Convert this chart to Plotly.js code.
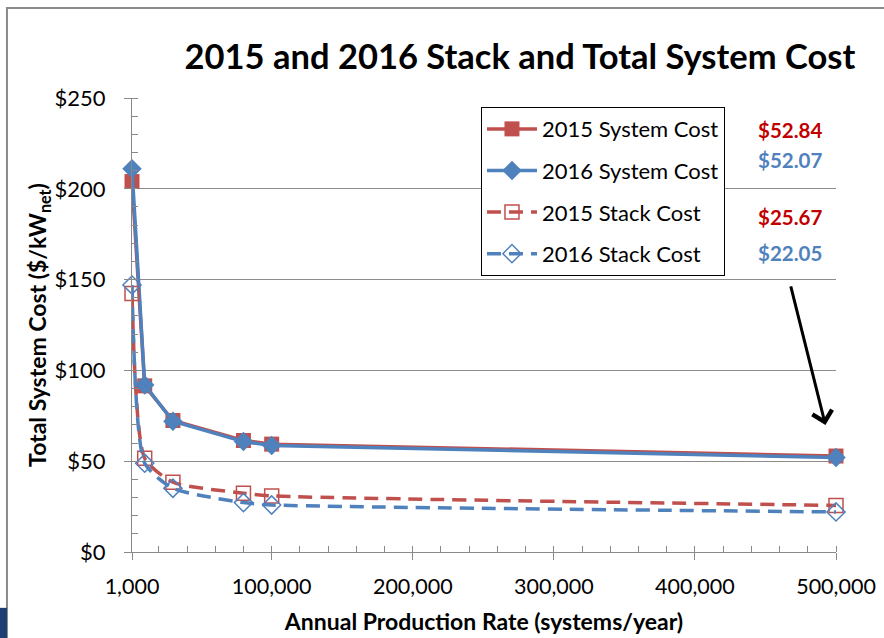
<!DOCTYPE html>
<html>
<head>
<meta charset="utf-8">
<script src="https://cdn.plot.ly/plotly-3.0.1.min.js"></script>
<style>html,body{margin:0;padding:0;background:#fff;}#chart{width:884px;height:638px;}</style>
</head>
<body>
<div id="chart"></div>
<script>
// Data
var productionRates = [1000, 10000, 30000, 80000, 100000, 500000];
var systemCost2015 = [204, 91.5, 72.4, 61.4, 59.4, 52.84];
var systemCost2016 = [211, 92, 72, 60.8, 58.6, 52.07];
var stackCost2015 = [142.4, 51.6, 38.4, 32.4, 30.9, 25.67];
var stackCost2016 = [147, 48.9, 35.1, 27.2, 25.9, 22.05];
var seriesNames = ["2015 System Cost", "2016 System Cost", "2015 Stack Cost", "2016 Stack Cost"];
var xTickVals = [1000, 100000, 200000, 300000, 400000, 500000];
var xTickText = ["1,000", "100,000", "200,000", "300,000", "400,000", "500,000"];
var yTickVals = [0, 50, 100, 150, 200, 250];
var yTickText = ["$0", "$50", "$100", "$150", "$200", "$250"];
var endLabels = ["$52.84", "$52.07", "$25.67", "$22.05"];

var RED = "#C0504D", BLUE = "#4F81BD";
var FONT = "Lato, 'Open Sans', sans-serif";

var traces = [
  {x: productionRates, y: systemCost2015, name: seriesNames[0], mode: "lines+markers", legendgroup: "a",
   line: {color: RED, width: 3.5}, marker: {symbol: "square", size: 15, color: RED}, cliponaxis: false},
  {x: productionRates, y: systemCost2016, name: seriesNames[1], mode: "lines+markers", legendgroup: "b",
   line: {color: BLUE, width: 3.5}, marker: {symbol: "diamond", size: 15, color: BLUE}, cliponaxis: false},
  {x: productionRates, y: stackCost2015, name: seriesNames[2], mode: "lines+markers", legendgroup: "c",
   line: {color: RED, width: 3.5, dash: "14px,8px", shape: "spline", smoothing: 0.6},
   marker: {symbol: "square-open", size: 14, color: RED, line: {width: 1.5}}, cliponaxis: false},
  {x: productionRates, y: stackCost2016, name: seriesNames[3], mode: "lines+markers", legendgroup: "d",
   line: {color: BLUE, width: 3.5, dash: "14px,8px", shape: "spline", smoothing: 0.6},
   marker: {symbol: "diamond-open", size: 14, color: BLUE, line: {width: 1.5}}, cliponaxis: false}
];

var labelColors = ["#C00000", BLUE, "#C00000", BLUE];
var labelY = [0.9295, 0.863, 0.738, 0.659];
var annotations = endLabels.map(function (t, i) {
  return {text: t, xref: "paper", yref: "paper", x: 0.935, y: labelY[i], xanchor: "center", yanchor: "middle",
          showarrow: false, font: {family: FONT, size: 20.5, color: labelColors[i], weight: "bold"}};
});
annotations.push({text: "", x: 492500, y: 70, xref: "x", yref: "y", showarrow: true,
  ax: -35, ay: -140, arrowhead: 4, arrowsize: 1.3, arrowwidth: 3, arrowcolor: "#000"});

var layout = {
  width: 884, height: 638,
  paper_bgcolor: "#fff", plot_bgcolor: "#fff",
  margin: {l: 132, r: 48, t: 98, b: 86},
  font: {family: FONT, color: "#000"},
  title: {text: "<b>2015 and 2016 Stack and Total System Cost</b>", font: {family: FONT, size: 34.5, color: "#000"},
          xref: "paper", x: 0.551, xanchor: "center", yref: "container", y: 0.91, yanchor: "middle"},
  xaxis: {range: [1000, 500000], tickmode: "array", tickvals: xTickVals, ticktext: xTickText,
          showgrid: false, zeroline: false, showline: true, linecolor: "#898989", linewidth: 1,
          ticks: "outside", ticklen: 7, tickcolor: "#898989", ticklabelstandoff: 8,
          minor: {dtick: 20000, tick0: 0, ticks: "inside", ticklen: 6, tickcolor: "#898989", showgrid: false},
          tickfont: {family: FONT, size: 21.5, color: "#000"},
          title: {text: "<b>Annual Production Rate (systems/year)</b>", font: {family: FONT, size: 23, color: "#000"}, standoff: 16}},
  yaxis: {range: [0, 250], tickmode: "array", tickvals: yTickVals, ticktext: yTickText,
          showgrid: true, gridcolor: "#8c8c8c", gridwidth: 1, zeroline: false, showline: true, linecolor: "#898989",
          ticks: "outside", ticklen: 7, tickcolor: "#898989", ticklabelstandoff: 14,
          minor: {dtick: 10, tick0: 0, ticks: "inside", ticklen: 6, tickcolor: "#898989", showgrid: false},
          tickfont: {family: FONT, size: 22, color: "#000"},
          title: {text: "<b>Total System Cost ($/kW<sub>net</sub>)</b>", font: {family: FONT, size: 23, color: "#000"}, standoff: 1}},
  legend: {x: 0.4957, y: 0.98, xanchor: "left", yanchor: "top", bgcolor: "#fff", bordercolor: "#000", borderwidth: 1,
           font: {family: FONT, size: 22, color: "#000"}, traceorder: "grouped", tracegroupgap: 10, itemwidth: 50},
  showlegend: true,
  annotations: annotations,
  shapes: [
    {type: "rect", xref: "paper", yref: "paper", x0: -0.1776, x1: 1.1, y0: -0.25, y1: 1.198,
     line: {color: "#8a8a8a", width: 2}, fillcolor: "rgba(0,0,0,0)", layer: "below"},
    {type: "rect", xref: "paper", yref: "paper", x0: -0.19, x1: -0.1776, y0: -0.2, y1: -0.123,
     line: {width: 0}, fillcolor: "#1F3F73", layer: "below"}
  ]
};

Plotly.newPlot("chart", traces, layout, {displayModeBar: false, staticPlot: true});
</script>
</body>
</html>
